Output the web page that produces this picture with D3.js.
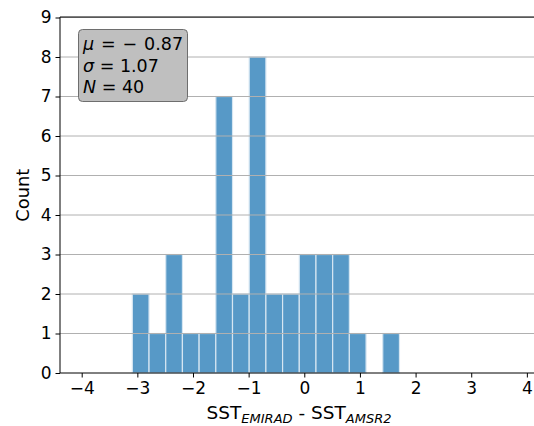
<!DOCTYPE html>
<html>
<head>
<meta charset="utf-8">
<script src="https://cdn.jsdelivr.net/npm/d3@7"></script>
<style>
  body { margin: 0; background: #fff; }
  svg { font-family: "DejaVu Sans", sans-serif; }
</style>
</head>
<body>
<svg width="534" height="426"></svg>
<script>
// histogram: bin edges start at -3.09, width 0.3
const binStart = -3.09;
const binWidth = 0.3;
const counts = [2, 1, 3, 1, 1, 7, 2, 8, 2, 2, 3, 3, 3, 1, 0, 1];
const xTicks = [-4, -3, -2, -1, 0, 1, 2, 3, 4];
const yTicks = [0, 1, 2, 3, 4, 5, 6, 7, 8, 9];
const statLines = [["μ", " = − 0.87"], ["σ", " = 1.07"], ["N", " = 40"]];

const bins = counts.map((c, i) => ({x0: binStart + i * binWidth, x1: binStart + (i + 1) * binWidth, n: c}));

const svg = d3.select("svg");

const x = d3.scaleLinear().domain([-4.39, 4.2]).range([60, 538]);
const y = d3.scaleLinear().domain([0, 9]).range([373, 17.5]);

// bars
svg.append("g").selectAll("rect")
  .data(bins.filter(d => d.n > 0)).enter()
  .append("rect")
  .attr("x", d => x(d.x0))
  .attr("y", d => y(d.n))
  .attr("width", d => x(d.x1) - x(d.x0))
  .attr("height", d => y(0) - y(d.n))
  .attr("fill", "#5799c7")
  .attr("stroke", "#d6e6f2")
  .attr("stroke-width", 1.2);

// grid over bars
svg.append("g").selectAll("line")
  .data(yTicks.filter(d => d > 0)).enter()
  .append("line")
  .attr("x1", 60).attr("x2", 534)
  .attr("y1", d => y(d)).attr("y2", d => y(d))
  .attr("stroke", "#b0b0b0")
  .attr("stroke-width", 1);

// axes
const xAxis = svg.append("g")
  .attr("transform", `translate(0,${y(0)})`)
  .call(d3.axisBottom(x).tickValues(xTicks).tickSize(4.5).tickPadding(4)
    .tickFormat(d => d < 0 ? "−" + Math.abs(d) : d));
const yAxis = svg.append("g")
  .attr("transform", `translate(60,0)`)
  .call(d3.axisLeft(y).tickValues(yTicks).tickSize(4.5).tickPadding(4));

[xAxis, yAxis].forEach(g => {
  g.selectAll("text").style("font-family", "DejaVu Sans").style("font-size", "17px").attr("fill", "#000");
  g.selectAll("line").attr("stroke", "#000").attr("stroke-width", 1);
  g.select(".domain").remove();
});

// spines
svg.append("line").attr("x1", 60).attr("x2", 534).attr("y1", y(0)).attr("y2", y(0)).attr("stroke", "#000");
svg.append("line").attr("x1", 60).attr("x2", 60).attr("y1", y(0)).attr("y2", 17).attr("stroke", "#000");
svg.append("line").attr("x1", 60).attr("x2", 534).attr("y1", 17).attr("y2", 17).attr("stroke", "#000");

// labels
svg.append("text")
  .attr("transform", `translate(29,${y(4.5)}) rotate(-90)`)
  .attr("text-anchor", "middle")
  .style("font-size", "17.8px")
  .text("Count");

const xl = svg.append("text")
  .attr("x", 299).attr("y", 419)
  .attr("text-anchor", "middle")
  .style("font-size", "18.5px");
xl.append("tspan").text("SST");
xl.append("tspan").attr("dy", 4).style("font-size", "13px").style("font-style", "italic").text("EMIRAD");
xl.append("tspan").attr("dy", -4).text(" - SST");
xl.append("tspan").attr("dy", 4).style("font-size", "13px").style("font-style", "italic").text("AMSR2");

// stats box
svg.append("rect")
  .attr("x", 78.5).attr("y", 29.5).attr("width", 109).attr("height", 72)
  .attr("rx", 4).attr("ry", 4)
  .attr("fill", "#bfbfbf")
  .attr("stroke", "#6e6e6e")
  .attr("stroke-width", 1);

const st = svg.append("g").selectAll("text")
  .data(statLines).enter()
  .append("text")
  .attr("x", 83)
  .attr("y", (d, i) => 50 + i * 21.5)
  .style("font-size", "17.5px")
  .style("word-spacing", (d, i) => i === 0 ? "1.3px" : "0px");
st.append("tspan").style("font-style", "italic").text(d => d[0]);
st.append("tspan").text(d => d[1]);
</script>
</body>
</html>
